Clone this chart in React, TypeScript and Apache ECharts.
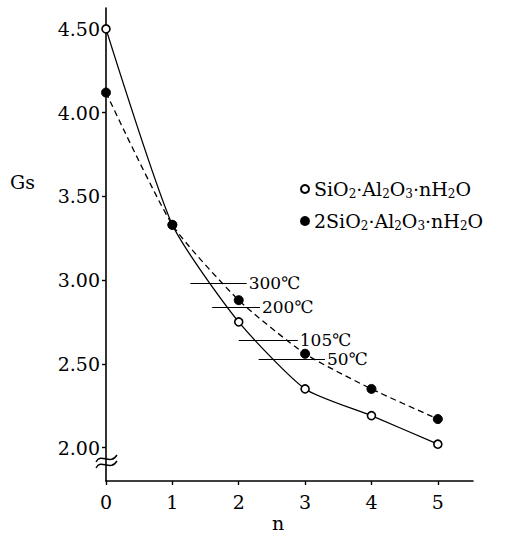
import React, { useEffect, useRef } from 'react';
import * as echarts from 'echarts';

const nValues = [0, 1, 2, 3, 4, 5];
const gsSiO2 = [4.5, 3.33, 2.75, 2.35, 2.19, 2.02];
const gs2SiO2 = [4.12, 3.33, 2.88, 2.56, 2.35, 2.17];
const yTicks = [2.0, 2.5, 3.0, 3.5, 4.0, 4.5];
const xTicks = [0, 1, 2, 3, 4, 5];
const seriesNames = ['SiO2·Al2O3·nH2O', '2SiO2·Al2O3·nH2O'];
const seriesRich = ['SiO{s|2}·Al{s|2}O{s|3}·nH{s|2}O', '2SiO{s|2}·Al{s|2}O{s|3}·nH{s|2}O'];
const tempLabels = ['300℃', '200℃', '105℃', '50℃'];
const tempGs = [2.98, 2.84, 2.64, 2.53];
const tempNStart = [1.27, 1.6, 2.0, 2.3];
const tempNEnd = [2.12, 2.32, 2.89, 3.3];

const FONT = '"DejaVu Serif", serif';

export default function App() {
  const ref = useRef<HTMLDivElement>(null);
  useEffect(() => {
    if (!ref.current) return;
    const chart = echarts.init(ref.current, null, { renderer: 'svg' });
    const markData = tempLabels.map((t, i) => [
      { name: t, coord: [tempNStart[i], tempGs[i]] },
      { coord: [tempNEnd[i], tempGs[i]] },
    ]);
    chart.setOption({
      animation: false,
      backgroundColor: '#fff',
      grid: { left: 106, right: 36, top: 8, bottom: 54 },
      xAxis: {
        type: 'value',
        min: 0,
        max: 5.53,
        splitLine: { show: false },
        axisLine: { lineStyle: { color: '#000', width: 1.6 } },
        axisTick: { length: 4, lineStyle: { color: '#000', width: 1.4 }, customValues: xTicks },
        axisLabel: { color: '#000', fontSize: 19, fontFamily: FONT, margin: 11, customValues: xTicks },
      },
      yAxis: {
        type: 'value',
        min: 1.8,
        max: 4.625,
        splitLine: { show: false },
        axisLine: { show: true, lineStyle: { color: '#000', width: 1.6 } },
        axisTick: { show: true, length: 4, lineStyle: { color: '#000', width: 1.4 }, customValues: yTicks },
        axisLabel: {
          color: '#000', fontSize: 19, fontFamily: FONT, margin: 6, customValues: yTicks,
          formatter: (v: number) => v.toFixed(2),
        },
      },
      legend: {
        orient: 'vertical',
        left: 295,
        top: 173,
        itemWidth: 8,
        itemHeight: 8,
        itemGap: 10,
        data: [
          { name: seriesNames[0], icon: 'circle' },
          { name: seriesNames[1], icon: 'circle' },
        ],
        formatter: (name: string) => seriesRich[seriesNames.indexOf(name)],
        textStyle: {
          color: '#000', fontSize: 19, fontFamily: FONT, lineHeight: 22,
          rich: {
            s: { fontSize: 12, fontFamily: FONT, color: '#000', verticalAlign: 'bottom', lineHeight: 12 },
          },
        },
      },
      series: [
        {
          name: seriesNames[0],
          type: 'line',
          data: nValues.map((n, i) => [n, gsSiO2[i]]),
          smooth: 0.2,
          symbol: 'circle',
          symbolSize: 8,
          itemStyle: { color: '#fff', borderColor: '#000', borderWidth: 1.6 },
          lineStyle: { color: '#000', width: 1.3 },
          z: 3,
        },
        {
          name: seriesNames[1],
          type: 'line',
          data: nValues.map((n, i) => [n, gs2SiO2[i]]),
          smooth: 0.2,
          symbol: 'circle',
          symbolSize: 9,
          itemStyle: { color: '#000', borderColor: '#000', borderWidth: 1 },
          lineStyle: { color: '#000', width: 1.3, type: [6, 4] },
          z: 4,
          markLine: {
            silent: true,
            symbol: ['none', 'none'],
            lineStyle: { type: 'solid', color: '#000', width: 1.2 },
            label: { show: true, position: 'end', formatter: '{b}', color: '#000', fontSize: 17, lineHeight: 15, fontFamily: FONT, distance: 2 },
            data: markData,
          },
        },
      ],
      graphic: [
        { type: 'text', left: 10, top: 172, style: { text: 'Gs', fontSize: 19, fontFamily: FONT, fill: '#000' } },
        { type: 'text', left: 272, top: 513, style: { text: 'n', fontSize: 19, fontFamily: FONT, fill: '#000' } },
        { type: 'bezierCurve', shape: { x1: 96, y1: 462, cpx1: 101, cpy1: 452, cpx2: 110, cpy2: 466, x2: 117, y2: 455 }, style: { stroke: '#000', lineWidth: 1.4, fill: 'none' }, z: 101 },
        { type: 'bezierCurve', shape: { x1: 96, y1: 468, cpx1: 101, cpy1: 458, cpx2: 110, cpy2: 472, x2: 117, y2: 461 }, style: { stroke: '#000', lineWidth: 1.4, fill: 'none' }, z: 101 },
      ],
    });
    return () => chart.dispose();
  }, []);
  return <div ref={ref} style={{ position: 'fixed', left: 0, top: 0, width: 509, height: 535 }} />;
}
